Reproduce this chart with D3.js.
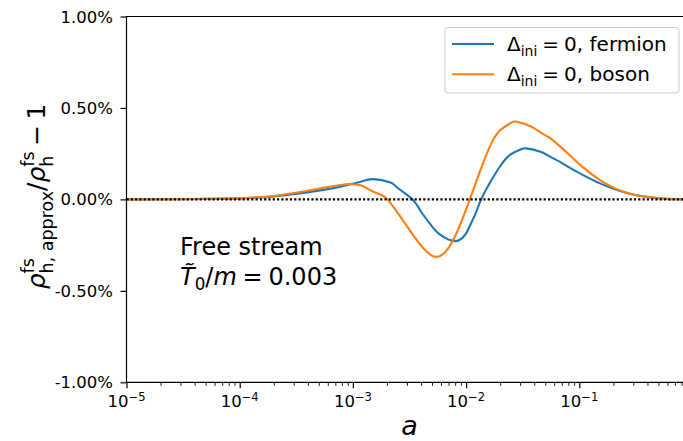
<!DOCTYPE html>
<html><head><meta charset="utf-8">
<script src="https://cdn.jsdelivr.net/npm/d3@7"></script>
<style>
body{margin:0;background:#fff}
svg text{font-family:"DejaVu Sans",sans-serif;fill:#000}
</style></head><body>
<svg id="chart" width="683" height="441"></svg>
<script>
// ---- data ----
const aFermion = [1e-5, 2.77e-5, 7.6e-5, 2.11e-4, 5.84e-4, 8.77e-4, 1.17e-3, 1.52e-3, 2.15e-3, 2.46e-3, 3.36e-3, 3.95e-3, 4.85e-3, 5.9e-3, 8.05e-3, 9.9e-3, 1.094e-2, 1.23e-2, 1.358e-2, 1.642e-2, 2.01e-2, 2.47e-2, 3.03e-2, 3.40e-2, 4.54e-2, 5.51e-2, 6.76e-2, 8.28e-2, 0.108, 0.1525, 0.2155, 0.298, 0.421, 0.594, 0.832, 1.0];
const fermion  = [0, 0.001, 0.004, 0.018, 0.055, 0.078, 0.097, 0.111, 0.092, 0.065, 0, -0.062, -0.137, -0.193, -0.228, -0.19, -0.137, -0.068, 0, 0.096, 0.184, 0.246, 0.273, 0.279, 0.26, 0.234, 0.205, 0.172, 0.133, 0.0875, 0.051, 0.027, 0.012, 0.003, 0.0005, 0];
const aBoson = [1e-5, 2.77e-5, 7.6e-5, 2.11e-4, 5.84e-4, 8.77e-4, 9.5e-4, 1.17e-3, 1.43e-3, 1.75e-3, 2.02e-3, 2.53e-3, 3.23e-3, 4.2e-3, 5.59e-3, 7.74e-3, 1.078e-2, 1.339e-2, 1.642e-2, 2.01e-2, 2.47e-2, 2.79e-2, 3.71e-2, 4.54e-2, 5.51e-2, 6.76e-2, 8.28e-2, 0.108, 0.1525, 0.2155, 0.298, 0.421, 0.594, 0.832, 1.0];
const boson  = [0, 0.001, 0.004, 0.02, 0.066, 0.083, 0.084, 0.077, 0.05, 0.027, 0, -0.08, -0.175, -0.268, -0.314, -0.219, 0, 0.16, 0.297, 0.379, 0.417, 0.425, 0.40, 0.366, 0.335, 0.29, 0.24, 0.175, 0.106, 0.055, 0.027, 0.012, 0.003, 0.0005, 0];
const xTickExps = [-5, -4, -3, -2, -1];
const yTicks = [-1, -0.5, 0, 0.5, 1];
const seriesNames = ["fermion", "boson"];
const seriesColors = ["#1f77b4", "#ff7f0e"];

// ---- layout ----
const svg = d3.select("#chart");
const L = 126.5, T = 16.5, B = 382.3, R = 126.5 + 5 * 113.2;
const x = d3.scaleLog().domain([1e-5, 1]).range([L, R]);
const y = d3.scaleLinear().domain([-1, 1]).range([B, T]);

function mathText(parent, parts, fs, x0, y0, anchor, rotate) {
  const g = parent.append("g");
  const inner = g.append("g");
  let cx = 0, ps = 0, pw = 0;
  parts.forEach(p => {
    if (p.gap !== undefined) { cx += p.gap * fs; return; }
    const s = p.s || 1;
    const start = p.stack ? ps : cx;
    const t = inner.append("text").attr("x", start).attr("y", -(p.dy || 0) * fs)
      .attr("font-size", fs * s).text(p.t);
    if (p.it) t.attr("font-style", "italic");
    const w = t.node().getComputedTextLength();
    if (p.stack) cx = Math.max(ps + pw, start + w); else cx = start + w;
    ps = start; pw = w;
  });
  const off = anchor === "middle" ? -cx / 2 : anchor === "end" ? -cx : 0;
  inner.attr("transform", `translate(${off},0)`);
  g.attr("transform", `translate(${x0},${y0})` + (rotate ? ` rotate(${rotate})` : ""));
  return { g, inner, width: cx };
}

// clip
svg.append("clipPath").attr("id", "clip").append("rect")
  .attr("x", L).attr("y", T).attr("width", R - L).attr("height", B - T);

// curves
const line = d3.line().x(d => x(d[0])).y(d => y(d[1])).curve(d3.curveNatural);
const series = [d3.zip(aFermion, fermion), d3.zip(aBoson, boson)];
const plot = svg.append("g").attr("clip-path", "url(#clip)");
series.forEach((s, i) => {
  plot.append("path").datum(s).attr("d", line).attr("fill", "none")
    .attr("stroke", seriesColors[i]).attr("stroke-width", 2.1).attr("stroke-linejoin", "round");
});
// dotted zero line
plot.append("line").attr("x1", x(1e-5)).attr("x2", x(1)).attr("y1", y(0)).attr("y2", y(0))
  .attr("stroke", "#000").attr("stroke-width", 2.2).attr("stroke-dasharray", "2.2,2.1");

// spines
function ln(x1, y1, x2, y2, w) {
  svg.append("line").attr("x1", x1).attr("y1", y1).attr("x2", x2).attr("y2", y2)
    .attr("stroke", "#000").attr("stroke-width", w || 1.2).attr("stroke-linecap", "square");
}
ln(L, T, L, B); ln(L, B, R, B); ln(L, T, R, T); ln(R, T, R, B);

// y axis
const yAxis = d3.axisLeft(y).tickValues(yTicks).tickSize(6).tickFormat("");
const yg = svg.append("g").attr("transform", `translate(${L},0)`).call(yAxis);
yg.select(".domain").remove();
yg.selectAll(".tick line").attr("stroke", "#000").attr("stroke-width", 1.2);
yTicks.forEach(v => {
  svg.append("text").attr("x", L - 13.5).attr("y", y(v)).attr("dy", "0.3645em")
    .attr("text-anchor", "end").attr("font-size", 16.5)
    .text(d3.format(".2f")(v).replace("\u2212", "-") + "%");
});

// x axis
const minor = [];
xTickExps.forEach(e => { for (let k = 2; k <= 9; k++) minor.push(k * Math.pow(10, e)); });
const majors = xTickExps.map(e => Math.pow(10, e)).concat([1]);
const xg = svg.append("g").attr("transform", `translate(0,${B})`)
  .call(d3.axisBottom(x).tickValues(majors.concat(minor)).tickSize(6).tickFormat(""));
xg.select(".domain").remove();
xg.selectAll(".tick line").attr("stroke", "#000")
  .attr("y2", d => majors.includes(d) ? 6 : 3.5).attr("stroke-width", d => majors.includes(d) ? 1.2 : 0.9);
xTickExps.forEach(e => {
  mathText(svg, [{ t: "10" }, { t: "\u2212" + Math.abs(e), s: 0.7, dy: 0.36 }], 16.5, x(Math.pow(10, e)), 407, "middle");
});

// axis labels
mathText(svg, [{ t: "a", it: true }], 27, (L + R) / 2, 434.5, "middle");
mathText(svg, [
  { t: "\u03c1", it: true },
  { t: "fs", s: 0.7, dy: 0.45 },
  { t: "h, approx", s: 0.7, dy: -0.3, stack: true },
  { t: "/" },
  { t: "\u03c1", it: true },
  { t: "fs", s: 0.7, dy: 0.45 },
  { t: "h", s: 0.7, dy: -0.3, stack: true },
  { gap: 0.22 }, { t: "\u2212" }, { gap: 0.22 }, { t: "1" }
], 25, 45, (T + B) / 2 - 3, "middle", -90);

// annotation
svg.append("text").attr("x", 180).attr("y", 255).attr("font-size", 24).text("Free stream");
mathText(svg, [
  { t: "T\u0303", it: true },
  { t: "0", s: 0.7, dy: -0.22 },
  { t: "/" },
  { t: "m", it: true },
  { gap: 0.24 }, { t: "=" }, { gap: 0.24 }, { t: "0.003" }
], 24, 180, 285, "start");

// legend
const lg = svg.append("g");
lg.append("rect").attr("x", 445).attr("y", 27.5).attr("width", 234).attr("height", 65.5)
  .attr("rx", 3).attr("fill", "#fff").attr("fill-opacity", 0.8).attr("stroke", "#cccccc").attr("stroke-width", 1);
seriesNames.forEach((n, i) => {
  const yy = 44 + i * 30.3;
  lg.append("line").attr("x1", 452).attr("x2", 494).attr("y1", yy).attr("y2", yy)
    .attr("stroke", seriesColors[i]).attr("stroke-width", 2);
  mathText(lg, [
    { t: "\u0394" }, { t: "ini", s: 0.7, dy: -0.25 },
    { gap: 0.25 }, { t: "=" }, { gap: 0.25 }, { t: "0" }, { t: ",\u00a0" + n }
  ], 20, 507, yy + 7, "start");
});
</script>
</body></html>
